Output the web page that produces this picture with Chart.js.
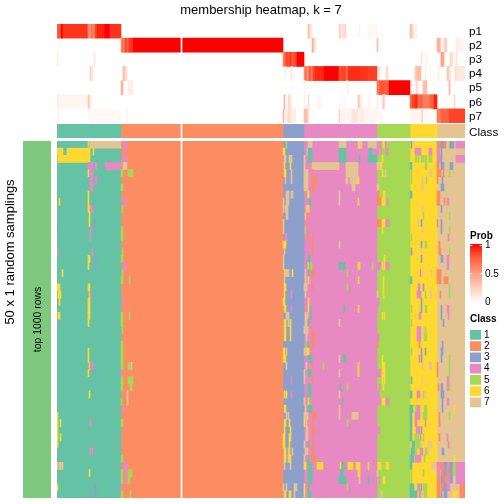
<!DOCTYPE html>
<html>
<head>
<meta charset="utf-8">
<title>membership heatmap</title>
<script src="https://cdn.jsdelivr.net/npm/chart.js@4/dist/chart.umd.min.js"></script>
<style>
  html, body { margin: 0; background: #fff; }
  canvas { position: absolute; }
</style>
</head>
<body>
<canvas id="probs" width="504" height="123" style="left:0;top:0"></canvas>
<canvas id="classes" width="504" height="14" style="left:0;top:124px"></canvas>
<canvas id="side" width="51" height="504" style="left:0;top:0"></canvas>
<canvas id="main" width="408" height="357" style="left:57px;top:141px"></canvas>
<canvas id="probKey" width="44" height="80" style="left:460px;top:225px"></canvas>
<canvas id="classKey" width="44" height="98" style="left:460px;top:310px"></canvas>
<script>
// samples are numbered 0..408 left to right, runs are [from, to, value]
const sampleCount = 408;
const splitGap = [124, 125];
const classLabels = ["1", "2", "3", "4", "5", "6", "7"];
const classColors = ["#66C2A5", "#FC8D62", "#8DA0CB", "#E78AC3", "#A6D854", "#FFD92F", "#E5C494"];
const classBreaks = [0, 64, 226, 247, 320, 353, 380, 408];
const probLabels = ["p1", "p2", "p3", "p4", "p5", "p6", "p7"];

const p1Runs = [[0,1,.7],[1,2,.85],[2,4,.75],[4,6,1],[6,31,.9],[31,33,.6],[33,34,.5],[34,36,.7],[36,38,.6],[38,40,.85],[40,48,.95],[48,53,1],[53,64,.9],[251,253,.35],[253,255,.12],[282,284,.25],[284,286,.12],[286,289,.2],[302,303,.07],[311,313,.05],[313,320,.04],[353,355,.35],[355,357,.2],[357,360,.08]];
const p2Runs = [[64,65,.5],[65,67,.7],[67,68,.6],[68,70,.85],[70,72,.75],[72,75,.9],[75,76,.85],[76,226,1],[255,257,.4],[257,259,.15],[320,321,.35],[380,384,.4],[384,387,.05],[387,390,.25],[399,403,.1],[403,408,.05]];
const p3Runs = [[0,1,.1],[37,38,.15],[226,227,.6],[227,229,.7],[229,231,.85],[231,233,.8],[233,235,.9],[235,236,.7],[236,237,.8],[237,240,.85],[240,247,1],[364,365,.15],[369,370,.1],[384,387,.5],[387,388,.2],[393,396,.2],[396,399,.05],[399,400,.15]];
const p4Runs = [[33,34,.3],[34,36,.15],[66,68,.35],[68,70,.2],[228,229,.1],[234,235,.15],[247,248,.5],[248,250,.7],[250,252,.55],[252,254,.8],[254,256,.65],[256,258,.85],[258,267,.93],[267,282,1],[282,284,.8],[284,288,.85],[288,289,.9],[289,291,.7],[291,303,.92],[303,311,.9],[311,320,.87],[321,323,.15],[329,331,.2],[358,360,.3],[360,364,.35],[368,369,.1],[373,374,.05],[381,382,.1],[390,392,.3],[393,394,.15],[398,400,.2],[400,408,.13]];
const p5Runs = [[64,66,.4],[71,72,.1],[72,76,.1],[247,248,.05],[290,291,.1],[320,323,.7],[323,328,.8],[328,332,.75],[332,353,1],[354,355,.15],[359,361,.2],[366,370,.35],[392,393,.4]];
const p6Runs = [[0,2,.12],[2,6,.06],[6,31,.05],[31,33,.3],[33,35,.05],[227,228,.4],[231,234,.2],[234,235,.05],[247,248,.1],[251,252,.2],[260,266,.04],[283,288,.03],[301,303,.3],[303,305,.1],[311,313,.05],[320,321,.1],[325,328,.12],[326,327,.3],[353,355,.7],[355,358,.85],[358,361,.92],[361,363,.7],[363,366,.75],[366,373,.65],[373,377,.75],[377,380,.95],[397,398,.2]];
const p7Runs = [[0,2,.06],[2,4,.02],[32,64,.04],[69,71,.05],[226,227,.4],[228,231,.1],[231,234,.2],[234,236,.1],[236,239,.1],[247,251,.35],[251,252,.15],[282,283,.3],[283,295,.06],[295,301,.15],[301,303,.05],[303,308,.1],[308,320,.05],[320,321,.05],[323,325,.05],[353,365,.05],[365,366,.35],[366,375,.03],[380,384,.65],[384,392,.75],[392,398,.85],[398,408,.85]];

// every row of the main heatmap: the cells that differ from the class of their column
const rowFlips = [
  [[31,32,6],[32,33,5],[33,64,7],[66,70,4],[229,230,5],[251,255,7],[282,289,7],[301,303,6],[303,305,7],[311,320,7],[320,321,4],[322,324,4],[326,328,6],[328,329,4],[354,355,3],[380,384,2],[384,387,3],[387,389,2],[392,393,5],[393,397,3],[399,408,4]],
  [[0,6,6],[10,33,6],[36,37,6],[67,68,4],[226,228,6],[250,251,7],[251,255,1],[282,289,1],[312,315,1],[320,322,4],[324,325,4],[329,331,4],[358,364,4],[372,375,4],[380,383,4],[384,385,3]],
  [[0,1,4],[1,33,6],[66,70,4],[227,229,7],[232,235,7],[247,248,7],[251,255,1],[282,289,1],[302,303,1],[311,320,1],[325,326,6],[358,360,5],[361,362,5],[364,367,5],[368,370,5],[372,375,5],[380,384,4],[384,385,3],[399,408,4]],
  [[31,36,4],[38,40,4],[48,64,4],[66,70,7],[227,228,6],[233,234,6],[247,248,7],[255,282,7],[289,301,7],[320,324,7],[324,325,6],[353,355,1],[368,370,5],[380,382,2],[384,387,3],[393,396,3]],
  [[31,32,6],[33,36,4],[64,66,5],[71,76,5],[227,229,6],[234,235,7],[247,251,7],[255,256,2],[289,301,7],[325,326,6],[328,329,7],[354,355,5],[373,375,7],[380,384,2],[386,387,2],[392,393,5]],
  [[33,36,4],[38,40,4],[228,229,7],[234,235,7],[247,251,7],[255,260,2],[289,291,7],[293,301,7],[301,302,6],[354,355,5],[365,366,7],[369,370,5],[380,381,2],[385,386,3]],
  [[33,36,4],[64,66,5],[247,251,7],[255,258,2],[295,298,7],[320,322,7],[365,366,7],[384,387,3]],
  [[31,32,6],[229,232,7],[234,236,7],[250,251,5],[251,252,6],[282,283,7],[320,322,2],[326,328,6],[353,355,1],[380,383,2]],
  [[2,3,6],[31,32,6],[66,67,4],[68,70,4],[226,227,7],[229,232,7],[252,254,1],[282,283,7],[301,302,6],[320,324,2],[325,328,6],[330,331,4],[380,383,2],[384,385,7],[387,388,2],[390,392,4]],
  [[31,33,6],[33,36,4],[65,66,5],[226,227,7],[228,231,7],[249,252,7],[251,252,6],[365,366,7],[384,385,3]],
  [[0,1,3],[32,33,6],[229,231,7],[248,249,7],[250,251,2],[366,367,5],[382,383,7],[392,393,5]],
  [[32,33,6],[37,38,3],[226,227,7],[250,251,2],[320,324,2],[325,328,6],[329,332,4],[361,362,7],[364,365,3],[380,381,2],[384,385,3],[390,391,7]],
  [[0,1,3],[33,34,4],[64,66,5],[226,227,7],[248,249,5],[325,326,6],[365,366,7],[384,385,3],[392,393,5]],
  [[33,34,4],[64,66,5],[228,230,4],[250,251,2],[256,257,2],[354,355,5],[391,392,4]],
  [[226,229,6],[255,256,2],[282,283,7],[364,365,3],[368,370,5],[382,383,2]],
  [[0,1,4],[35,36,4],[65,66,5],[227,228,7],[255,256,2],[354,355,3],[364,365,7],[382,384,2],[392,393,5]],
  [[31,33,6],[38,39,3],[64,66,5],[226,227,7],[251,253,1],[327,328,6],[364,365,3],[384,386,3],[390,392,4]],
  [[31,32,6],[38,39,3],[66,67,4],[68,70,4],[226,227,7],[251,252,6],[252,253,1],[253,255,5],[282,284,1],[285,288,1],[301,303,6],[315,316,5],[320,324,4],[325,326,6],[327,328,6],[329,332,4],[390,392,4]],
  [[5,6,6],[65,66,5],[227,228,6],[228,232,7],[235,236,6],[248,249,7],[251,252,1],[255,258,2],[290,291,5],[363,364,4],[365,366,7],[374,375,7],[380,384,2]],
  [[64,66,5],[72,73,5],[227,228,7],[248,249,7],[251,252,6],[301,302,6],[326,327,6],[353,355,1],[380,384,2],[387,391,2]],
  [[0,3,6],[31,33,6],[227,229,6],[247,250,7],[255,256,2],[290,291,5],[326,327,6],[361,363,4],[366,367,3],[392,393,5]],
  [[1,4,6],[32,33,6],[33,34,4],[227,228,6],[234,235,4],[248,249,7],[320,321,7],[326,327,6],[360,364,4],[368,369,5],[373,375,7],[383,384,2],[392,393,5]],
  [[2,3,6],[31,33,6],[66,67,4],[226,228,6],[251,252,6],[320,322,4],[364,365,3],[390,391,7]],
  [[31,33,6],[227,229,6],[234,235,4],[251,252,6],[253,254,1],[287,288,1],[301,302,6],[320,321,4],[354,355,5],[364,365,3],[368,370,5],[384,385,3],[390,392,4]],
  [[1,3,6],[31,33,6],[64,66,5],[72,73,5],[229,232,7],[248,251,7],[253,254,1],[325,326,6],[327,328,6],[362,364,4],[384,385,3],[391,392,4]],
  [[0,1,3],[31,32,6],[64,66,5],[227,229,6],[231,232,7],[233,234,6],[248,250,7],[251,252,1],[282,283,7],[354,355,5],[386,387,3]],
  [[65,66,5],[227,229,6],[233,234,6],[247,251,7],[255,256,2],[360,364,4],[366,367,7],[368,369,5]],
  [[227,229,6],[233,234,6],[249,250,7],[255,258,2],[320,322,4],[360,364,4],[367,370,5]],
  [[64,66,5],[249,250,5],[251,252,1],[255,257,2],[320,321,2],[362,363,2],[385,386,3]],
  [[31,32,6],[64,66,5],[226,228,6],[229,230,7],[247,250,7],[250,252,6],[354,355,5],[364,365,3],[368,369,3],[384,386,3]],
  [[31,32,6],[64,66,5],[226,229,6],[251,255,1],[282,283,7],[286,289,1],[325,326,6],[362,363,4],[364,365,3],[384,385,3],[392,393,5]],
  [[32,33,6],[33,34,4],[35,36,4],[64,66,5],[71,73,5],[74,75,7],[229,230,7],[249,250,7],[255,256,2],[266,267,5],[301,302,6],[325,328,6],[365,366,7],[372,375,7],[380,381,2],[392,393,5]],
  [[31,32,6],[38,39,3],[64,65,4],[247,248,7],[251,254,1],[282,283,7],[301,302,6],[320,324,4],[325,328,6],[380,381,2],[392,393,5]],
  [[64,66,5],[71,76,5],[234,235,4],[247,248,7],[255,256,2],[325,326,6],[327,328,6],[354,355,1],[365,366,7],[390,392,4]],
  [[64,66,5],[73,75,5],[251,254,1],[283,284,1],[290,291,5],[322,323,4],[326,327,6],[381,382,2],[384,386,3],[390,392,4],[392,393,5]],
  [[32,33,6],[70,71,7],[227,228,6],[229,230,6],[234,235,4],[251,254,1],[282,283,7],[320,322,4],[353,355,1],[360,363,4],[366,367,5],[368,369,7],[384,387,3]],
  [[64,65,5],[70,71,7],[247,248,7],[251,252,6],[252,253,5],[285,286,1],[320,324,4],[325,328,6],[329,332,4],[385,386,3],[390,392,4]],
  [[66,67,4],[227,229,6],[248,249,7],[251,255,1],[282,283,7],[353,356,1],[358,360,5],[360,363,4],[367,370,5],[385,386,3],[397,398,6]],
  [[0,1,6],[229,230,7],[231,232,7],[247,251,7],[255,259,2],[282,283,7],[295,301,7],[353,355,1],[358,363,4],[366,370,5],[382,383,2],[384,385,7],[392,393,5]],
  [[0,1,6],[3,4,6],[33,34,4],[64,66,5],[227,229,6],[232,233,6],[247,248,6],[249,250,7],[255,256,2],[290,291,5],[353,355,1],[358,360,4],[368,369,4],[382,383,2]],
  [[0,1,6],[227,228,6],[233,234,6],[249,251,7],[255,258,2],[320,321,4],[322,323,4],[353,355,1],[359,363,4],[364,365,3]],
  [[0,1,6],[3,4,6],[226,228,6],[232,234,6],[249,251,7],[255,256,2],[353,355,1],[358,362,5],[363,364,4],[366,367,5],[382,383,2],[390,391,4]],
  [[0,1,6],[226,228,6],[232,233,6],[247,248,7],[251,252,1],[255,257,2],[355,358,1],[359,363,5],[364,365,7],[371,372,7],[373,375,7],[391,392,4]],
  [[0,1,3],[33,34,4],[35,36,4],[227,229,6],[231,232,7],[232,233,6],[235,236,7],[248,251,7],[255,257,2],[354,358,1],[358,360,5],[363,366,4],[368,370,5],[371,372,7],[385,387,3]],
  [[64,66,5],[227,229,6],[231,232,7],[232,234,6],[247,248,7],[251,252,1],[255,259,2],[353,357,1],[358,364,4],[367,368,5],[397,398,6]],
  [[0,1,7],[2,6,7],[66,70,4],[227,228,7],[233,234,7],[247,249,6],[251,255,1],[260,266,6],[283,284,6],[285,286,1],[287,288,1],[291,296,6],[299,303,6],[311,312,6],[321,324,6],[329,332,6],[353,355,1],[375,380,7],[380,381,2],[381,384,4],[384,387,2],[387,390,3],[390,393,4],[393,396,3],[396,399,5],[399,408,4]],
  [[32,33,6],[64,66,5],[68,70,4],[71,75,5],[251,255,1],[283,286,1],[301,303,6],[320,321,7],[354,355,5],[366,367,5],[380,383,4],[384,387,2],[387,390,3],[390,393,2],[393,396,3],[396,399,5],[399,408,4]],
  [[64,66,5],[68,70,4],[71,73,5],[251,255,1],[282,289,1],[302,303,7],[311,312,1],[322,323,4],[326,328,6],[354,355,5],[380,383,2],[384,387,3],[387,390,2],[390,393,4],[393,396,3],[396,399,7],[399,408,4]],
  [[0,1,6],[38,39,3],[64,65,4],[226,227,7],[229,230,7],[237,240,7],[247,248,6],[251,252,1],[290,291,5],[353,357,1],[360,361,5],[361,363,4],[364,365,3],[366,370,5],[380,383,2],[384,387,2],[387,390,3],[390,393,4],[394,397,7],[403,408,2]],
  [[38,39,3],[64,66,5],[73,74,5],[227,229,6],[232,234,6],[237,238,7],[247,248,6],[251,254,1],[324,325,7],[353,360,1],[362,364,4],[365,366,7],[367,370,5],[371,372,6],[380,383,2],[384,385,3],[387,390,3],[396,400,6],[403,408,2]]
];

Chart.defaults.font.family = "'Liberation Sans', Arial, sans-serif";
Chart.defaults.color = "#000";
Chart.defaults.animation = false;
Chart.defaults.responsive = false;
Chart.defaults.plugins.legend.display = false;
Chart.defaults.plugins.tooltip.enabled = false;

// white to red, roughly the Lab ramp the reference uses
function probColor(v) {
  const g = Math.round(255 * Math.pow(1 - v, 0.69));
  const b = Math.round(255 * Math.pow(1 - v, 0.98));
  return "rgb(255," + g + "," + b + ")";
}

// one dataset per run, only its own row is filled
function runDataset(rowIndex, rowCount, run, color) {
  const data = new Array(rowCount).fill(null);
  data[rowIndex] = [run[0], run[1]];
  return { yAxisID: "y", data: data, backgroundColor: color };
}

// the class bands and the split gap run over all rows, so they live on
// a one-slot axis and no seams show between the rows
function bandDatasets() {
  return classColors.map((color, i) => ({
    yAxisID: "whole",
    data: [[classBreaks[i], classBreaks[i + 1]]],
    backgroundColor: color
  }));
}

function gapDataset() {
  return { yAxisID: "whole", data: [splitGap], backgroundColor: "#fff" };
}

const barOptions = { barPercentage: 1, categoryPercentage: 1, borderWidth: 0, grouped: false };
const wholeAxis = { type: "category", labels: ["all"], display: false, offset: true };

// stops the edge tick labels from pushing the plot area in
function fitAxis(width) {
  return s => {
    s.width = width;
    s.paddingTop = 0;
    s.paddingBottom = 0;
  };
}

function stripScales(labelShift) {
  return {
    x: { type: "linear", display: false, min: 0, max: sampleCount },
    whole: wholeAxis,
    y: {
      position: "right",
      grid: { display: false, drawTicks: false },
      border: { display: false },
      ticks: { autoSkip: false, padding: 4, labelOffset: labelShift, font: { size: 11.7 } },
      afterFit: fitAxis(39)
    }
  };
}

// probability rows with the page title above them
const probSets = [];
[p1Runs, p2Runs, p3Runs, p4Runs, p5Runs, p6Runs, p7Runs].forEach((runs, r) => {
  runs.forEach(run => probSets.push(runDataset(r, probLabels.length, run, probColor(run[2]))));
});
new Chart(document.getElementById("probs"), {
  type: "bar",
  data: { labels: probLabels, datasets: [gapDataset()].concat(probSets.reverse()) },
  options: {
    indexAxis: "y",
    datasets: { bar: barOptions },
    layout: { padding: { left: 57 } },
    scales: stripScales(0.5),
    plugins: {
      title: {
        display: true,
        text: "membership heatmap, k = 7",
        fullSize: false,
        font: { size: 13, weight: "normal" },
        padding: { top: 3, bottom: 5.4 }
      }
    }
  }
});

new Chart(document.getElementById("classes"), {
  type: "bar",
  data: { labels: ["Class"], datasets: [gapDataset()].concat(bandDatasets()) },
  options: {
    indexAxis: "y",
    datasets: { bar: barOptions },
    layout: { padding: { left: 57 } },
    scales: stripScales(1.5)
  }
});

// main heatmap, rows top to bottom
const rowLabels = rowFlips.map((_, i) => "row " + (i + 1));
const flipSets = [];
rowFlips.forEach((flips, r) => {
  flips.forEach(run => flipSets.push(runDataset(r, rowFlips.length, run, classColors[run[2] - 1])));
});
new Chart(document.getElementById("main"), {
  type: "bar",
  data: { labels: rowLabels, datasets: [gapDataset()].concat(flipSets.reverse(), bandDatasets()) },
  options: {
    indexAxis: "y",
    datasets: { bar: barOptions },
    scales: {
      x: { type: "linear", display: false, min: 0, max: sampleCount },
      whole: wholeAxis,
      y: { display: false }
    }
  }
});

// green side bar and the two rotated labels
const sideLabels = {
  id: "sideLabels",
  afterDraw(chart) {
    const ctx = chart.ctx, area = chart.chartArea;
    ctx.save();
    ctx.fillStyle = "#000";
    ctx.textAlign = "center";
    ctx.textBaseline = "middle";
    ctx.translate(10, chart.height / 2);
    ctx.rotate(-Math.PI / 2);
    ctx.font = "13px 'Liberation Sans'";
    ctx.fillText("50 x 1 random samplings", 0, 0);
    ctx.restore();
    ctx.save();
    ctx.fillStyle = "#000";
    ctx.textAlign = "center";
    ctx.textBaseline = "middle";
    ctx.translate((area.left + area.right) / 2 + 1, (area.top + area.bottom) / 2);
    ctx.rotate(-Math.PI / 2);
    ctx.font = "10.4px 'Liberation Sans'";
    ctx.fillText("top 1000 rows", 0, 0);
    ctx.restore();
  }
};
new Chart(document.getElementById("side"), {
  type: "bar",
  data: { labels: ["top 1000 rows"], datasets: [{ data: [[0, 1]], backgroundColor: "#7FC97F" }] },
  options: {
    indexAxis: "y",
    datasets: { bar: barOptions },
    layout: { padding: { left: 23, top: 141, bottom: 6 } },
    scales: {
      x: { display: false, min: 0, max: 1 },
      y: { display: false }
    }
  },
  plugins: [sideLabels]
});

// Prob key
const probTicks = [0, 0.5, 1];
new Chart(document.getElementById("probKey"), {
  type: "bar",
  data: {
    labels: ["Prob"],
    datasets: [{
      data: [[-0.02, 1.03]],
      backgroundColor(c) {
        const area = c.chart.chartArea;
        if (!area) return "#fff";
        const grad = c.chart.ctx.createLinearGradient(0, area.bottom, 0, area.top);
        [0, 0.25, 0.5, 0.75, 0.9, 1].forEach(v => grad.addColorStop(v, probColor(v)));
        return grad;
      }
    }]
  },
  options: {
    datasets: { bar: barOptions },
    layout: { padding: { left: 10, bottom: 2 } },
    scales: {
      x: { display: false },
      y: {
        position: "right",
        min: -0.02,
        max: 1.03,
        afterBuildTicks: s => { s.ticks = probTicks.map(v => ({ value: v })); },
        afterFit: fitAxis(22),
        grid: { color: "#fff", drawTicks: false, z: 1 },
        border: { display: false, dash: [2.5, 7, 2.5] },
        ticks: { padding: 3, font: { size: 10 }, callback: v => String(v) }
      }
    },
    plugins: {
      title: {
        display: true,
        text: "Prob",
        align: "start",
        font: { size: 10, weight: "bold" },
        padding: { top: 5, bottom: 2 }
      }
    }
  }
});

// Class key
new Chart(document.getElementById("classKey"), {
  type: "bar",
  data: {
    labels: classLabels,
    datasets: [{ data: classLabels.map(() => 1), backgroundColor: classColors }]
  },
  options: {
    indexAxis: "y",
    datasets: { bar: { barPercentage: 0.88, categoryPercentage: 1, borderWidth: 0 } },
    layout: { padding: { left: 10 } },
    scales: {
      x: { display: false, min: 0, max: 1 },
      y: {
        position: "right",
        afterFit: fitAxis(23),
        grid: { display: false, drawTicks: false },
        border: { display: false },
        ticks: { autoSkip: false, padding: 3, font: { size: 10 } }
      }
    },
    plugins: {
      title: {
        display: true,
        text: "Class",
        align: "start",
        font: { size: 10, weight: "bold" },
        padding: { top: 3, bottom: 4.3 }
      }
    }
  }
});
</script>
</body>
</html>
